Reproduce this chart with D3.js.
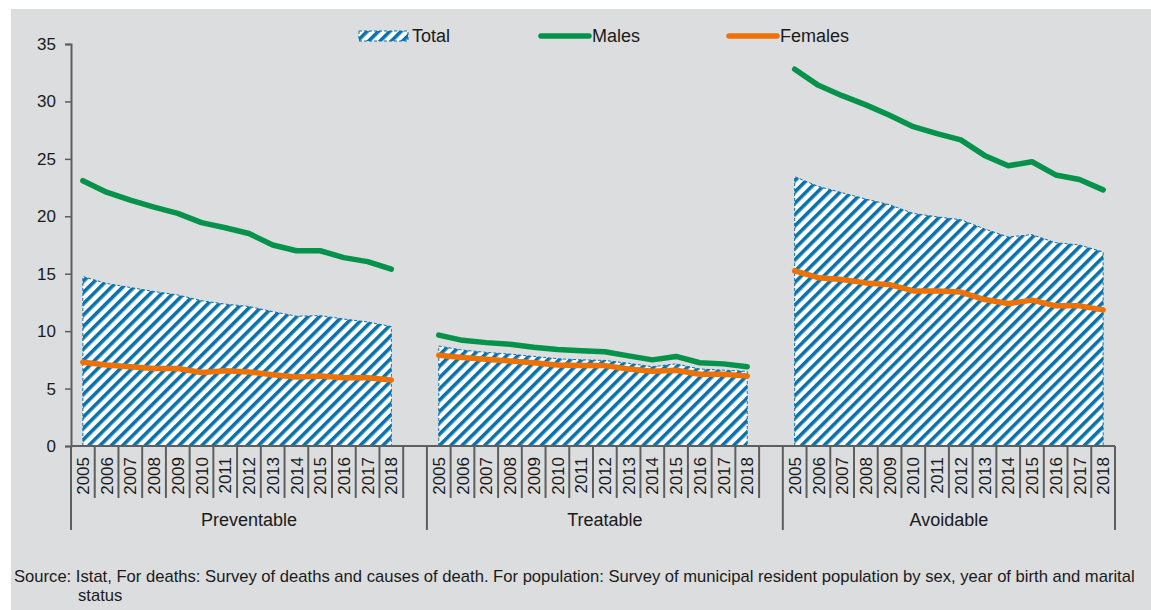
<!DOCTYPE html>
<html>
<head>
<meta charset="utf-8">
<script src="https://cdn.jsdelivr.net/npm/d3@7"></script>
<style>
  html, body { margin: 0; padding: 0; background: #ffffff; }
  svg { display: block; font-family: "Liberation Sans", Arial, sans-serif; }
</style>
</head>
<body>
<svg id="chart" width="1151" height="610"></svg>
<script>
// ---- Data ----
const groups = ["Preventable", "Treatable", "Avoidable"];
const years = ["2005","2006","2007","2008","2009","2010","2011","2012","2013","2014","2015","2016","2017","2018"];
const yTicks = [0, 5, 10, 15, 20, 25, 30, 35];

const totalPreventable = [14.75, 14.15, 13.8, 13.45, 13.15, 12.65, 12.35, 12.15, 11.7, 11.3, 11.35, 11.05, 10.8, 10.4];
const malesPreventable = [23.1, 22.1, 21.4, 20.8, 20.25, 19.45, 19.0, 18.5, 17.5, 17.0, 17.0, 16.4, 16.05, 15.4];
const femalesPreventable = [7.3, 7.05, 6.9, 6.75, 6.75, 6.4, 6.55, 6.45, 6.2, 6.0, 6.1, 5.95, 5.95, 5.75];

const totalTreatable = [8.7, 8.35, 8.15, 8.0, 7.8, 7.6, 7.5, 7.45, 7.2, 6.9, 7.15, 6.7, 6.6, 6.5];
const malesTreatable = [9.65, 9.2, 9.0, 8.85, 8.6, 8.4, 8.3, 8.2, 7.85, 7.5, 7.8, 7.25, 7.15, 6.9];
const femalesTreatable = [7.9, 7.7, 7.55, 7.4, 7.25, 7.05, 7.0, 7.0, 6.7, 6.5, 6.6, 6.25, 6.25, 6.1];

const totalAvoidable = [23.45, 22.6, 22.05, 21.5, 21.0, 20.25, 19.95, 19.7, 18.9, 18.2, 18.4, 17.7, 17.5, 16.9];
const malesAvoidable = [32.8, 31.4, 30.5, 29.7, 28.8, 27.8, 27.2, 26.65, 25.3, 24.4, 24.75, 23.6, 23.2, 22.3];
const femalesAvoidable = [15.25, 14.65, 14.5, 14.2, 14.05, 13.5, 13.5, 13.4, 12.75, 12.4, 12.7, 12.2, 12.2, 11.85];

const seriesNames = ["Total", "Males", "Females"];
const sourceLines = [
  "Source: Istat, For deaths: Survey of deaths and causes of death. For population: Survey of municipal resident population by sex, year of birth and marital",
  "status"
];

// table built from arrays
const table = [
  { group: "Preventable", total: totalPreventable, males: malesPreventable, females: femalesPreventable },
  { group: "Treatable", total: totalTreatable, males: malesTreatable, females: femalesTreatable },
  { group: "Avoidable", total: totalAvoidable, males: malesAvoidable, females: femalesAvoidable }
];

// ---- Style ----
const BG = "#dcdddf";
const BLUE = "#0a72aa";
const GREEN = "#05924a";
const ORANGE = "#ee7106";
const AXIS = "#5e5e5e";
const TEXT = "#1a1a1a";

const svg = d3.select("#chart");
const W = 1151, H = 610;

// background
svg.append("rect").attr("x", 11).attr("y", 9).attr("width", W - 11).attr("height", H - 9).attr("fill", BG);

// pattern
const defs = svg.append("defs");
const pat = defs.append("pattern")
  .attr("id", "hatch")
  .attr("patternUnits", "userSpaceOnUse")
  .attr("width", 8).attr("height", 8)
  .attr("patternTransform", "rotate(45)");
pat.append("rect").attr("width", 8).attr("height", 8).attr("fill", "#ffffff");
pat.append("rect").attr("x", 0).attr("y", 0).attr("width", 3.6).attr("height", 8).attr("fill", BLUE);

// category keys: 14 years per group + an empty slot between groups
const cats = [];
groups.forEach((g, gi) => {
  years.forEach(y => cats.push(g + "|" + y));
  if (gi < groups.length - 1) cats.push("gap" + gi);
});

const x = d3.scaleBand().domain(cats).range([71, 1115]).paddingInner(0).paddingOuter(0);
const y = d3.scaleLinear().domain([0, 35]).range([446, 44]);
const cx = k => x(k) + x.bandwidth() / 2;

// y axis
const yAxis = d3.axisLeft(y).tickValues(yTicks).tickSize(6).tickPadding(9).tickFormat(d3.format("d"));
const yg = svg.append("g").attr("transform", "translate(71,0)").call(yAxis);
yg.select(".domain").attr("stroke", AXIS).attr("stroke-width", 2);
yg.selectAll(".tick line").attr("stroke", AXIS).attr("stroke-width", 1.5);
yg.selectAll(".tick text").attr("fill", TEXT).style("font-size", "17px").style("font-family", "Liberation Sans, Arial, sans-serif");

// areas and lines
const area = d3.area().x(d => cx(d.key)).y0(y(0)).y1(d => y(d.v));
const line = d3.line().x(d => cx(d.key)).y(d => y(d.v));

const plot = svg.append("g");
table.forEach(row => {
  const tot = years.map((yr, i) => ({ key: row.group + "|" + yr, v: row.total[i] }));
  plot.append("path").datum(tot).attr("d", area).attr("fill", "url(#hatch)");
  const first = tot[0], last = tot[tot.length - 1];
  const outline = [{ key: first.key, v: 0 }].concat(tot).concat([{ key: last.key, v: 0 }]);
  plot.append("path").datum(outline).attr("d", line)
    .attr("fill", "none").attr("stroke", BLUE).attr("stroke-width", 1)
    .attr("stroke-dasharray", "3,2");
});
table.forEach(row => {
  [["males", GREEN], ["females", ORANGE]].forEach(([s, col]) => {
    const pts = years.map((yr, i) => ({ key: row.group + "|" + yr, v: row[s][i] }));
    plot.append("path").datum(pts).attr("d", line)
      .attr("fill", "none").attr("stroke", col).attr("stroke-width", 5.5)
      .attr("stroke-linejoin", "round").attr("stroke-linecap", "round");
  });
});

// x axis
const xg = svg.append("g");
xg.append("line").attr("x1", 71).attr("x2", 1115).attr("y1", y(0)).attr("y2", y(0))
  .attr("stroke", AXIS).attr("stroke-width", 2);
const groupStarts = groups.map(g => x(g + "|" + years[0]));
const boundaries = cats.map(k => x(k)).concat([x.range()[1]]);
boundaries.forEach(b => {
  const isLong = groupStarts.some(s => Math.abs(s - b) < 0.5) ||
                 Math.abs(b - x.range()[1]) < 0.5 ||
                 cats.some(k => k.startsWith("gap") && Math.abs(x(k) + x.bandwidth() - b) < 0.5);
  xg.append("line").attr("x1", b).attr("x2", b).attr("y1", y(0)).attr("y2", isLong ? 530 : 498)
    .attr("stroke", AXIS).attr("stroke-width", 2);
});
cats.filter(k => !k.startsWith("gap")).forEach(k => {
  xg.append("text")
    .attr("transform", `translate(${cx(k)},457) rotate(-90)`)
    .attr("text-anchor", "end").attr("dy", "0.36em")
    .attr("fill", TEXT).style("font-size", "17px")
    .text(k.split("|")[1]);
});
groups.forEach((g, gi) => {
  const start = x(g + "|" + years[0]);
  const end = gi < groups.length - 1 ? x("gap" + gi) + x.bandwidth() : x.range()[1];
  xg.append("text").attr("x", (start + end) / 2).attr("y", 526)
    .attr("text-anchor", "middle").attr("fill", TEXT).style("font-size", "18px").text(g);
});

// legend
const lg = svg.append("g");
lg.append("rect").attr("x", 359).attr("y", 31).attr("width", 49).attr("height", 10)
  .attr("fill", "url(#hatch)").attr("stroke", BLUE).attr("stroke-width", 1).attr("stroke-dasharray", "3,2");
lg.append("text").attr("x", 412).attr("y", 42).attr("fill", TEXT).style("font-size", "18px").text(seriesNames[0]);
lg.append("line").attr("x1", 541).attr("x2", 589).attr("y1", 36).attr("y2", 36)
  .attr("stroke", GREEN).attr("stroke-width", 5.5).attr("stroke-linecap", "round");
lg.append("text").attr("x", 592).attr("y", 42).attr("fill", TEXT).style("font-size", "18px").text(seriesNames[1]);
lg.append("line").attr("x1", 729).attr("x2", 777).attr("y1", 36).attr("y2", 36)
  .attr("stroke", ORANGE).attr("stroke-width", 5.5).attr("stroke-linecap", "round");
lg.append("text").attr("x", 780).attr("y", 42).attr("fill", TEXT).style("font-size", "18px").text(seriesNames[2]);

// source (condensed to the reference width)
const sg = svg.append("g");
const t1 = sg.append("text").attr("x", 0).attr("y", 0).attr("fill", TEXT).style("font-size", "16px").text(sourceLines[0]);
const len = t1.node().getComputedTextLength();
const sx = 1122 / len;
t1.attr("transform", `translate(14,582) scale(${sx},1)`);
sg.append("text").attr("x", 0).attr("y", 0).attr("fill", TEXT).style("font-size", "16px")
  .attr("transform", `translate(78,601) scale(${sx},1)`).text(sourceLines[1]);
</script>
</body>
</html>
